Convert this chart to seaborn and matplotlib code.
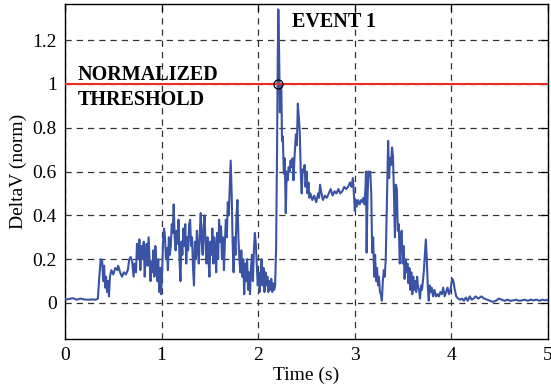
import numpy as np
import pandas as pd
import matplotlib
matplotlib.use("Agg")
import matplotlib.pyplot as plt
import seaborn as sns

# Signal (time in s, normalized delta V)
time_s = [
    0.00, 0.04, 0.08, 0.12, 0.16, 0.20, 0.24, 0.28, 0.32, 0.34,
    0.355, 0.37, 0.385, 0.395, 0.405, 0.415, 0.425, 0.435, 0.445, 0.455,
    0.465, 0.48, 0.50, 0.52, 0.54, 0.55, 0.57, 0.59, 0.61, 0.63,
    0.65, 0.665, 0.68, 0.695, 0.71, 0.72, 0.735, 0.745, 0.755, 0.77,
    0.78, 0.79, 0.80, 0.815, 0.825, 0.835, 0.845, 0.855, 0.865, 0.875,
    0.885, 0.895, 0.905, 0.915, 0.925, 0.935, 0.945, 0.955, 0.965, 0.975,
    0.985, 0.995, 1.005, 1.015, 1.025, 1.035, 1.045, 1.055, 1.065, 1.075,
    1.085, 1.095, 1.105, 1.115, 1.125, 1.135, 1.145, 1.155, 1.165, 1.175,
    1.185, 1.195, 1.205, 1.215, 1.225, 1.235, 1.245, 1.255, 1.265, 1.275,
    1.285, 1.295, 1.305, 1.315, 1.325, 1.335, 1.345, 1.355, 1.365, 1.375,
    1.385, 1.395, 1.405, 1.415, 1.425, 1.435, 1.445, 1.455, 1.465, 1.475,
    1.485, 1.495, 1.505, 1.515, 1.525, 1.535, 1.545, 1.555, 1.565, 1.575,
    1.585, 1.595, 1.605, 1.615, 1.625, 1.635, 1.645, 1.655, 1.665, 1.675,
    1.685, 1.695, 1.705, 1.715, 1.725, 1.735, 1.745, 1.755, 1.765, 1.775,
    1.785, 1.795, 1.805, 1.815, 1.825, 1.835, 1.845, 1.855, 1.865, 1.875,
    1.885, 1.895, 1.905, 1.915, 1.925, 1.935, 1.945, 1.955, 1.965, 1.975,
    1.985, 1.995, 2.005, 2.015, 2.025, 2.035, 2.045, 2.055, 2.065, 2.075,
    2.085, 2.095, 2.105, 2.115, 2.125, 2.135, 2.145, 2.155, 2.165, 2.175,
    2.185, 2.195, 2.202, 2.208, 2.216, 2.224, 2.232, 2.24, 2.246, 2.255,
    2.265, 2.275, 2.285, 2.295, 2.305, 2.315, 2.325, 2.335, 2.345, 2.355,
    2.365, 2.375, 2.39, 2.40, 2.41, 2.42, 2.43, 2.44, 2.45, 2.46,
    2.47, 2.48, 2.49, 2.50, 2.51, 2.52, 2.53, 2.54, 2.56, 2.58,
    2.60, 2.62, 2.63, 2.64, 2.655, 2.67, 2.69, 2.71, 2.73, 2.75,
    2.77, 2.79, 2.81, 2.83, 2.85, 2.87, 2.89, 2.91, 2.93, 2.95,
    2.965, 2.98, 2.99, 3.00, 3.01, 3.02, 3.035, 3.05, 3.065, 3.08,
    3.09, 3.10, 3.11, 3.116, 3.122, 3.13, 3.14, 3.15, 3.16, 3.17,
    3.18, 3.19, 3.20, 3.21, 3.22, 3.23, 3.24, 3.25, 3.26, 3.27,
    3.28, 3.29, 3.30, 3.31, 3.32, 3.33, 3.345, 3.355, 3.365, 3.375,
    3.385, 3.395, 3.405, 3.415, 3.425, 3.435, 3.445, 3.455, 3.465, 3.475,
    3.485, 3.495, 3.505, 3.515, 3.525, 3.535, 3.545, 3.555, 3.565, 3.575,
    3.585, 3.595, 3.605, 3.615, 3.625, 3.635, 3.645, 3.655, 3.665, 3.675,
    3.685, 3.695, 3.705, 3.715, 3.725, 3.735, 3.745, 3.755, 3.765, 3.775,
    3.785, 3.795, 3.81, 3.825, 3.84, 3.855, 3.87, 3.885, 3.90, 3.915,
    3.93, 3.945, 3.96, 3.975, 3.99, 4.00, 4.01, 4.02, 4.035, 4.05,
    4.07, 4.09, 4.11, 4.13, 4.15, 4.17, 4.19, 4.21, 4.23, 4.25,
    4.28, 4.31, 4.34, 4.37, 4.40, 4.43, 4.46, 4.49, 4.52, 4.55,
    4.58, 4.61, 4.64, 4.67, 4.70, 4.73, 4.76, 4.79, 4.82, 4.85,
    4.88, 4.91, 4.94, 4.97, 5.00,
]
delta_v = [
    0.015, 0.018, 0.022, 0.015, 0.02, 0.016, 0.015, 0.016, 0.015, 0.02,
    0.12, 0.2, 0.19, 0.1, 0.17, 0.07, 0.12, 0.05, 0.1, 0.03,
    0.12, 0.15, 0.13, 0.16, 0.15, 0.17, 0.14, 0.12, 0.14, 0.13,
    0.15, 0.2, 0.21, 0.19, 0.12, 0.18, 0.14, 0.27, 0.2, 0.29,
    0.15, 0.26, 0.2, 0.28, 0.12, 0.22, 0.27, 0.17, 0.3, 0.2,
    0.1, 0.19, 0.14, 0.24, 0.12, 0.26, 0.19, 0.1, 0.2, 0.05,
    0.16, 0.04, 0.14, 0.28, 0.34, 0.3, 0.2, 0.25, 0.15, 0.3,
    0.22, 0.26, 0.36, 0.32, 0.45, 0.3, 0.24, 0.33, 0.27, 0.38,
    0.2, 0.1, 0.28, 0.22, 0.34, 0.26, 0.36, 0.18, 0.3, 0.24,
    0.36, 0.38, 0.26, 0.3, 0.16, 0.08, 0.28, 0.2, 0.33, 0.25,
    0.18, 0.32, 0.41, 0.28, 0.22, 0.35, 0.4, 0.26, 0.18, 0.3,
    0.2, 0.12, 0.28, 0.22, 0.34, 0.18, 0.3, 0.24, 0.14, 0.32,
    0.2, 0.38, 0.28, 0.35, 0.2, 0.3, 0.15, 0.28, 0.38, 0.3,
    0.46, 0.4, 0.52, 0.65, 0.5, 0.28, 0.14, 0.3, 0.22, 0.4,
    0.47, 0.3, 0.2, 0.14, 0.24, 0.12, 0.2, 0.04, 0.18, 0.1,
    0.2, 0.06, 0.14, 0.04, 0.16, 0.22, 0.1, 0.24, 0.32, 0.27,
    0.18, 0.08, 0.14, 0.05, 0.12, 0.2, 0.08, 0.16, 0.05, 0.14,
    0.08, 0.12, 0.05, 0.1, 0.06, 0.11, 0.05, 0.09, 0.06, 0.08,
    0.25, 0.7, 1.1, 1.34, 1.15, 0.87, 1.0, 0.97, 0.74, 0.76,
    0.59, 0.66, 0.41, 0.6, 0.56, 0.62, 0.6, 0.65, 0.62, 0.66,
    0.56, 0.66, 0.77, 0.72, 0.91, 0.85, 0.78, 0.6, 0.5, 0.61,
    0.6, 0.63, 0.53, 0.6, 0.5, 0.55, 0.48, 0.5, 0.47, 0.49,
    0.46, 0.5, 0.48, 0.54, 0.5, 0.47, 0.49, 0.48, 0.5, 0.52,
    0.49, 0.51, 0.5, 0.52, 0.5, 0.51, 0.53, 0.52, 0.53, 0.55,
    0.53, 0.57, 0.5, 0.42, 0.47, 0.44, 0.47, 0.45, 0.47, 0.46,
    0.48, 0.45, 0.52, 0.6, 0.23, 0.45, 0.6, 0.58, 0.6, 0.5,
    0.23, 0.3, 0.12, 0.22, 0.1, 0.16, 0.08, 0.12, 0.05, 0.04,
    0.01, 0.1, 0.15, 0.12, 0.2, 0.42, 0.74, 0.57, 0.66, 0.63,
    0.71, 0.67, 0.5, 0.3, 0.54, 0.52, 0.33, 0.36, 0.18, 0.3,
    0.33, 0.18, 0.26, 0.11, 0.2, 0.14, 0.18, 0.09, 0.16, 0.06,
    0.14, 0.04, 0.12, 0.06, 0.1, 0.05, 0.12, 0.07, 0.06, 0.02,
    0.08, 0.06, 0.1, 0.15, 0.22, 0.29, 0.2, 0.08, 0.01, 0.08,
    0.05, 0.07, 0.03, 0.06, 0.03, 0.04, 0.03, 0.05, 0.04, 0.07,
    0.03, 0.05, 0.07, 0.04, 0.06, 0.09, 0.11, 0.1, 0.06, 0.03,
    0.02, 0.015, 0.02, 0.01, 0.025, 0.01, 0.03, 0.015, 0.02, 0.03,
    0.02, 0.03, 0.02, 0.015, 0.01, 0.005, 0.01, 0.02, 0.015, 0.01,
    0.015, 0.01, 0.012, 0.015, 0.01, 0.012, 0.015, 0.01, 0.015, 0.012,
    0.015, 0.01, 0.015, 0.012, 0.015,
]
assert len(time_s) == len(delta_v)

threshold = 1.0
event_time = 2.205
x_ticks = [0, 1, 2, 3, 4, 5]
y_ticks = [0, 0.2, 0.4, 0.6, 0.8, 1, 1.2]
y_tick_labels = ["0", "0.2", "0.4", "0.6", "0.8", "1", "1.2"]

df = pd.DataFrame({"Time": time_s, "DeltaV": delta_v})

sns.set_style("white")
plt.rcParams["font.family"] = ["Liberation Serif", "DejaVu Serif"]
plt.rcParams["text.color"] = "black"
plt.rcParams["axes.labelcolor"] = "black"
plt.rcParams["xtick.color"] = "black"
plt.rcParams["ytick.color"] = "black"

fig = plt.figure(figsize=(5.51, 3.90), dpi=100)
ax = fig.add_axes([0.118, 0.131, 0.8766, 0.8589])

sns.lineplot(data=df, x="Time", y="DeltaV", ax=ax, color="#3a53a4",
             linewidth=1.5, estimator=None, sort=False, zorder=3)
ax.axhline(threshold, color="#ee2b2b", linewidth=1.5, zorder=4)
ax.plot([event_time], [threshold], marker="o", markersize=6.5,
        markerfacecolor="none", markeredgecolor="black",
        markeredgewidth=0.9, zorder=5)

ax.text(2.35, 1.283, "EVENT 1", fontsize=14.5, fontweight="bold",
        va="center", ha="left", color="black")
ax.text(0.13, 1.04, "NORMALIZED", fontsize=14.5, fontweight="bold",
        va="center", ha="left", color="black")
ax.text(0.13, 0.925, "THRESHOLD", fontsize=14.5, fontweight="bold",
        va="center", ha="left", color="black")

ax.set_xlim(0, 5)
ax.set_ylim(-0.164, 1.365)
ax.set_xticks(x_ticks)
ax.set_yticks(y_ticks)
ax.set_yticklabels(y_tick_labels)
ax.grid(True, color="#333333", linestyle=(0, (5, 4)), linewidth=0.9)
ax.set_axisbelow(True)
ax.tick_params(direction="in", length=5, width=0.9, top=True, right=True,
               labelsize=14, pad=6, colors="black")
for sp in ax.spines.values():
    sp.set_color("black")
    sp.set_linewidth(1.0)

ax.set_xlabel("Time (s)", fontsize=14, labelpad=2, color="black")
ax.set_ylabel("DeltaV (norm)", fontsize=14, labelpad=4, color="black")

fig.savefig("out.png", dpi=100)
